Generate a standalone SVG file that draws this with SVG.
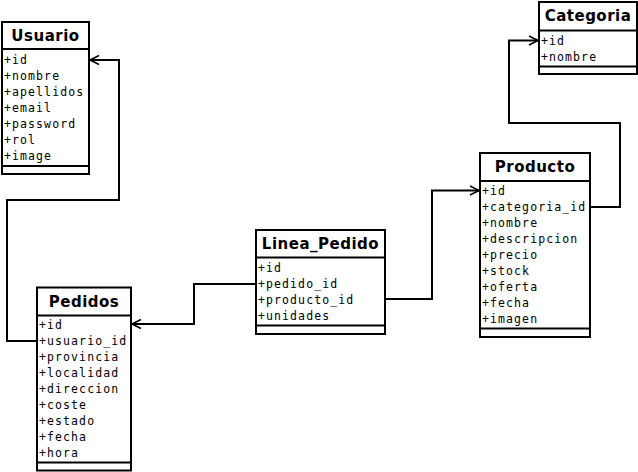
<svg xmlns="http://www.w3.org/2000/svg" width="638" height="472" viewBox="0 0 638 472">
<style>
.box{fill:#fff;stroke:#000;stroke-width:2}
.sep{stroke:#000;stroke-width:2}
.title{font-family:"DejaVu Sans",sans-serif;font-weight:bold;font-size:15px;letter-spacing:0.5px;text-anchor:middle;fill:#000}
.attr{font-family:"DejaVu Sans Mono",monospace;font-size:11.5px;letter-spacing:1.1px;fill:#000}
.conn{fill:none;stroke:#000;stroke-width:2}
</style>
<defs>
<marker id="arr" markerWidth="12" markerHeight="12" refX="10" refY="6" orient="auto" markerUnits="userSpaceOnUse">
<path d="M1,1.5 L10,6 L1,10.5" fill="none" stroke="#000" stroke-width="1.6"/>
</marker>
</defs>
<rect width="638" height="472" fill="#fff"/>
<g id="connectors">
<polyline class="conn" points="37,341 7,341 7,200 119,200 119,60 90,60" marker-end="url(#arr)"/>
<polyline class="conn" points="256,284 194,284 194,324 132,324" marker-end="url(#arr)"/>
<polyline class="conn" points="385,299 432,299 432,190.5 479,190.5" marker-end="url(#arr)"/>
<polyline class="conn" points="590,207 620,207 620,123 509,123 509,40.5 538,40.5" marker-end="url(#arr)"/>
</g>
<g id="usuario">
<rect class="box" x="2" y="22" width="87" height="152"/>
<line class="sep" x1="2" y1="49" x2="89" y2="49"/>
<line class="sep" x1="2" y1="166" x2="89" y2="166"/>
<text class="title" x="45.5" y="41">Usuario</text>
<text class="attr" x="4" y="63.5">+id</text>
<text class="attr" x="4" y="79.5">+nombre</text>
<text class="attr" x="4" y="95.5">+apellidos</text>
<text class="attr" x="4" y="111.5">+email</text>
<text class="attr" x="4" y="127.5">+password</text>
<text class="attr" x="4" y="143.5">+rol</text>
<text class="attr" x="4" y="159.5">+image</text>
</g>
<g id="categoria">
<rect class="box" x="539" y="2" width="98" height="72"/>
<line class="sep" x1="539" y1="30.5" x2="637" y2="30.5"/>
<line class="sep" x1="539" y1="66.5" x2="637" y2="66.5"/>
<text class="title" x="588" y="21">Categoria</text>
<text class="attr" x="541" y="44.5">+id</text>
<text class="attr" x="541" y="60.5">+nombre</text>
</g>
<g id="linea_pedido">
<rect class="box" x="256" y="230" width="129" height="104"/>
<line class="sep" x1="256" y1="257.5" x2="385" y2="257.5"/>
<line class="sep" x1="256" y1="325.5" x2="385" y2="325.5"/>
<text class="title" x="320.5" y="249">Linea_Pedido</text>
<text class="attr" x="258" y="271.5">+id</text>
<text class="attr" x="258" y="287.5">+pedido_id</text>
<text class="attr" x="258" y="303.5">+producto_id</text>
<text class="attr" x="258" y="319.5">+unidades</text>
</g>
<g id="producto">
<rect class="box" x="480" y="153" width="110" height="184"/>
<line class="sep" x1="480" y1="181" x2="590" y2="181"/>
<line class="sep" x1="480" y1="328.5" x2="590" y2="328.5"/>
<text class="title" x="535" y="172">Producto</text>
<text class="attr" x="482" y="194.5">+id</text>
<text class="attr" x="482" y="210.5">+categoria_id</text>
<text class="attr" x="482" y="226.5">+nombre</text>
<text class="attr" x="482" y="242.5">+descripcion</text>
<text class="attr" x="482" y="258.5">+precio</text>
<text class="attr" x="482" y="274.5">+stock</text>
<text class="attr" x="482" y="290.5">+oferta</text>
<text class="attr" x="482" y="306.5">+fecha</text>
<text class="attr" x="482" y="322.5">+imagen</text>
</g>
<g id="pedidos">
<rect class="box" x="37" y="287.5" width="94" height="183"/>
<line class="sep" x1="37" y1="315.5" x2="131" y2="315.5"/>
<line class="sep" x1="37" y1="462.5" x2="131" y2="462.5"/>
<text class="title" x="84" y="306.5">Pedidos</text>
<text class="attr" x="39" y="328.5">+id</text>
<text class="attr" x="39" y="344.5">+usuario_id</text>
<text class="attr" x="39" y="360.5">+provincia</text>
<text class="attr" x="39" y="376.5">+localidad</text>
<text class="attr" x="39" y="392.5">+direccion</text>
<text class="attr" x="39" y="408.5">+coste</text>
<text class="attr" x="39" y="424.5">+estado</text>
<text class="attr" x="39" y="440.5">+fecha</text>
<text class="attr" x="39" y="456.5">+hora</text>
</g>
</svg>
